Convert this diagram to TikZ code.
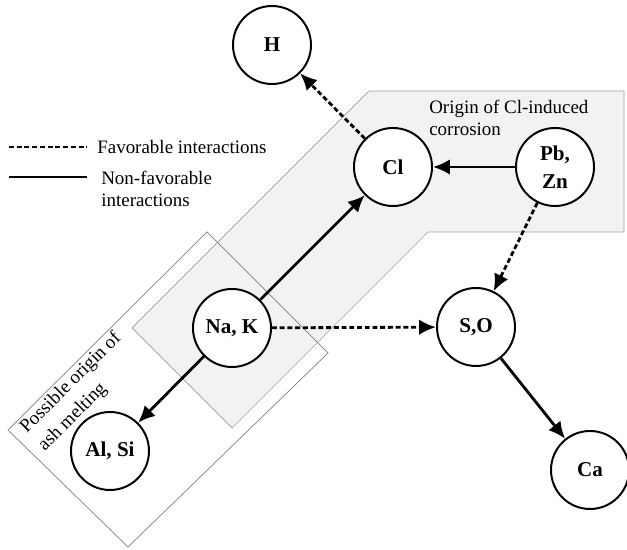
\documentclass[tikz,border=0pt]{standalone}
\usepackage{fontspec}
\setmainfont{Liberation Serif}
\usetikzlibrary{arrows.meta}

\begin{document}
\begin{tikzpicture}[
  elem/.style={circle,draw,fill=white,line width=1.4pt,minimum size=1.95cm,inner sep=0pt,align=center,
    font=\fontsize{15}{20}\selectfont\bfseries},
  favline/.style={line width=2pt,dash pattern=on 3.5pt off 2pt},
  fav/.style={favline,->},
  nonfav/.style={line width=2pt,->},
  zone/.style={line width=0.5pt},
  note/.style={font=\fontsize{13.5}{15.5}\selectfont,align=left,inner sep=0pt},
  >={Latex[length=12pt,width=11pt]}
]
  \useasboundingbox (0,0) rectangle (15.675,13.75);

  % shaded zone around Cl and Pb, Zn
  \filldraw[zone,draw=black!38,fill=black!5] (3.3,5.55) -- (9.225,11.475) -- (15.6,11.475)
    -- (15.6,7.95) -- (10.7,7.95) -- (5.8,3.05) -- cycle;
  % tilted box around Na, K and Al, Si
  \draw[zone,draw=black!50] (0.2,3.0) -- (5.175,7.95) -- (8.2,4.925) -- (3.2,0.075) -- cycle;

  \node[note,anchor=west] (cllabel) at (10.725,10.8) {Origin of Cl-induced\\corrosion};
  \node[note,rotate=45,font=\fontsize{13.5}{18}\selectfont] (ashlabel) at (2.0,3.95)
    {Possible origin of\\ash melting};

  \node[elem] (h) at (6.8,12.625) {H};
  \node[elem] (cl) at (9.825,9.575) {Cl};
  \node[elem] (pbzn) at (13.875,9.575) {Pb,\\Zn};
  \node[elem] (nak) at (5.8,5.55) {Na, K};
  \node[elem] (so) at (11.9,5.575) {S,O};
  \node[elem] (alsi) at (2.75,2.475) {Al, Si};
  \node[elem] (ca) at (14.75,2.0) {Ca};

  \draw[fav] (cl) -- (h);
  \draw[nonfav] (pbzn) -- (cl);
  \draw[nonfav] (nak) -- (cl);
  \draw[nonfav] (nak) -- (alsi);
  \draw[fav] (nak) -- (so);
  \draw[fav] (pbzn) -- (so);
  \draw[nonfav] (so) -- (ca);

  % legend
  \coordinate (fava) at (0.225,10.075);
  \coordinate (favb) at (2.175,10.075);
  \coordinate (nona) at (0.225,9.325);
  \coordinate (nonb) at (2.175,9.325);
  \draw[favline] (fava) -- (favb);
  \draw[line width=2pt] (nona) -- (nonb);
  \node[note,anchor=west] (favtext) at (2.425,10.075) {Favorable interactions};
  \node[note,anchor=west] (nontext) at (2.525,9.025) {Non-favorable\\interactions};
\end{tikzpicture}
\end{document}
